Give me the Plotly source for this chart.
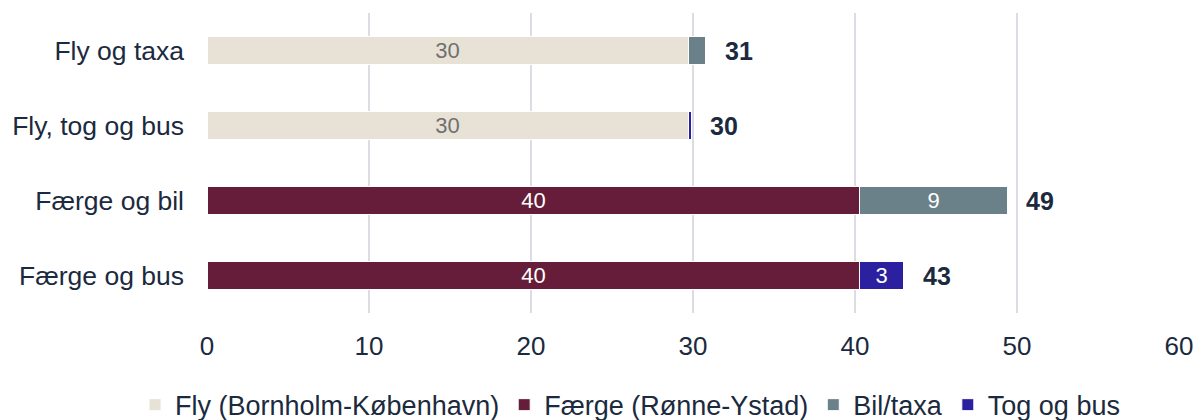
import plotly.graph_objects as go

# Rejsemåder (oppefra og ned)
kategorier = ["Fly og taxa", "Fly, tog og bus", "Færge og bil", "Færge og bus"]

fly = [29.7, 29.7, 0, 0]
faerge = [0, 0, 40.3, 40.3]
bil_taxa = [1.1, 0, 9.1, 0]
tog_bus = [0, 0.2, 0, 2.7]

fly_tekst = ["30", "30", "", ""]
faerge_tekst = ["", "", "40", "40"]
bil_tekst = ["", "", "9", ""]
tog_tekst = ["", "", "", "3"]

totaler = [a + b + c + d for a, b, c, d in zip(fly, faerge, bil_taxa, tog_bus)]

FONT = "Liberation Sans, Arial, sans-serif"
NAVY = "#1b2a3e"

serier = [
    ("Fly (Bornholm-København)", fly, fly_tekst, "#e8e1d6", "#707070"),
    ("Færge (Rønne-Ystad)", faerge, faerge_tekst, "#651d3a", "white"),
    ("Bil/taxa", bil_taxa, bil_tekst, "#6b8189", "white"),
    ("Tog og bus", tog_bus, tog_tekst, "#2a20a0", "white"),
]

fig = go.Figure()

for navn, vaerdier, tekst, farve, tekstfarve in serier:
    fig.add_trace(go.Bar(
        y=kategorier,
        x=vaerdier,
        name=navn,
        orientation="h",
        marker=dict(color=farve, line=dict(color="white", width=1)),
        text=tekst,
        textposition="inside",
        insidetextanchor="middle",
        textangle=0,
        constraintext="none",
        textfont=dict(color=tekstfarve, size=22, family=FONT),
        width=0.37,
    ))

# Totaler til højre for søjlerne
for kat, tot in zip(kategorier, totaler):
    fig.add_annotation(
        x=tot, y=kat,
        text="<b>%d</b>" % round(tot),
        showarrow=False,
        xanchor="left",
        xshift=17,
        font=dict(size=25, color=NAVY, family=FONT),
    )

fig.update_layout(
    barmode="stack",
    width=1200,
    height=420,
    margin=dict(l=207, r=21, t=13, b=107, autoexpand=False),
    plot_bgcolor="white",
    paper_bgcolor="white",
    font=dict(family=FONT, size=26, color=NAVY),
    legend=dict(
        orientation="h",
        x=-0.074, xanchor="left", xref="paper",
        y=-0.307, yanchor="middle", yref="paper",
        font=dict(size=27, color=NAVY),
        traceorder="normal",
        itemwidth=30,
    ),
    xaxis=dict(
        range=[0, 60],
        dtick=10,
        showgrid=True,
        gridcolor="#dcdce2",
        gridwidth=2,
        zeroline=False,
        showline=False,
        automargin=False,
        tickfont=dict(size=26, color=NAVY),
        ticklabelstandoff=15,
    ),
    yaxis=dict(
        autorange="reversed",
        showgrid=False,
        showline=False,
        automargin=False,
        ticks="",
        tickfont=dict(size=26.5, color=NAVY),
        ticklabelstandoff=22,
    ),
)

fig.write_html(
    "out.html",
    config={"displayModeBar": False},
    post_script="document.body.style.margin='0';",
)
